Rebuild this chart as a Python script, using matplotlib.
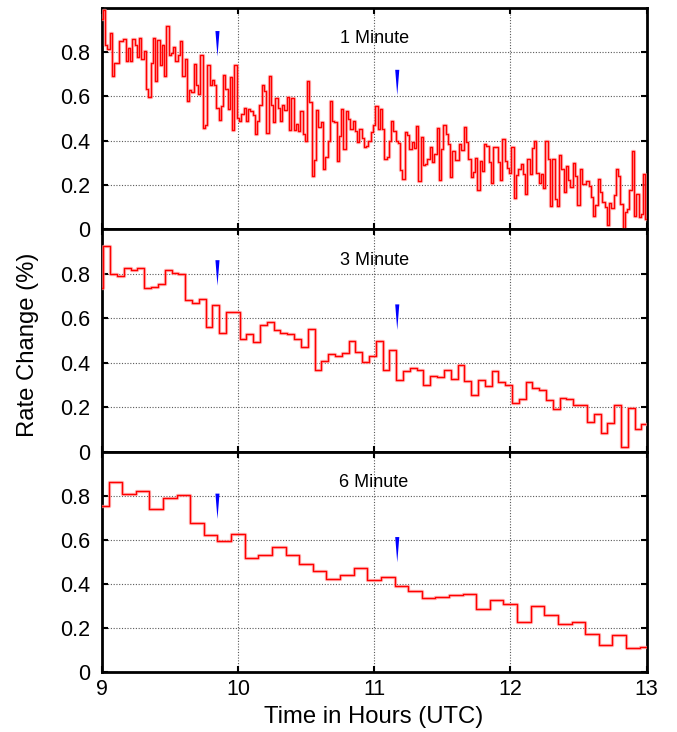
import numpy as np
import matplotlib
matplotlib.use("Agg")
import matplotlib.pyplot as plt

plt.rcParams["font.family"] = ["Liberation Sans", "DejaVu Sans"]

# ---------------------------------------------------------------------
# rate change (%) averaged over 1, 3 and 6 minute bins, 09:00 -> 13:00 UTC
rate_1min = [
    0.95, 0.99, 0.833, 0.815, 0.887, 0.69, 0.753, 0.753, 0.848, 0.848,
    0.86, 0.76, 0.818, 0.76, 0.86, 0.83, 0.776, 0.863, 0.767, 0.806,
    0.635, 0.598, 0.752, 0.863, 0.668, 0.854, 0.743, 0.83, 0.69, 0.92,
    0.788, 0.795, 0.823, 0.762, 0.788, 0.848, 0.69, 0.77, 0.58, 0.63,
    0.62, 0.747, 0.65, 0.61, 0.788, 0.457, 0.472, 0.743, 0.65, 0.672,
    0.65, 0.547, 0.495, 0.555, 0.698, 0.635, 0.544, 0.687, 0.45, 0.743,
    0.502, 0.49, 0.522, 0.547, 0.49, 0.541, 0.532, 0.517, 0.43, 0.49,
    0.56, 0.653, 0.623, 0.435, 0.692, 0.56, 0.484, 0.592, 0.547, 0.49,
    0.56, 0.537, 0.598, 0.448, 0.594, 0.448, 0.477, 0.444, 0.532, 0.432,
    0.40, 0.67, 0.574, 0.242, 0.311, 0.538, 0.46, 0.484, 0.27, 0.326,
    0.397, 0.58, 0.49, 0.484, 0.31, 0.42, 0.544, 0.364, 0.532, 0.5,
    0.454, 0.49, 0.444, 0.394, 0.454, 0.412, 0.371, 0.376, 0.4, 0.44,
    0.472, 0.556, 0.454, 0.541, 0.454, 0.319, 0.326, 0.40, 0.487, 0.442,
    0.40, 0.39, 0.266, 0.226, 0.44, 0.424, 0.364, 0.394, 0.367, 0.466,
    0.217, 0.417, 0.292, 0.296, 0.316, 0.371, 0.304, 0.341, 0.457, 0.221,
    0.361, 0.469, 0.43, 0.386, 0.236, 0.353, 0.311, 0.311, 0.386, 0.356, 0.46,
    0.394, 0.319, 0.236, 0.259, 0.322, 0.176, 0.307, 0.263, 0.386, 0.376,
    0.304, 0.211, 0.371, 0.371, 0.304, 0.221, 0.409, 0.31, 0.277, 0.256,
    0.37, 0.141, 0.244, 0.271, 0.293, 0.251, 0.158, 0.316, 0.248, 0.367,
    0.398, 0.256, 0.209, 0.248, 0.186, 0.397, 0.319, 0.104, 0.316,
    0.138, 0.104, 0.337, 0.271, 0.168, 0.286, 0.221, 0.191, 0.301, 0.241,
    0.108, 0.274, 0.203, 0.205, 0.218, 0.194, 0.146, 0.06, 0.108, 0.229,
    0.168, 0.123, 0.101, 0.018, 0.12, 0.096, 0.156, 0.271, 0.241, 0.113,
    0.0, 0.078, 0.093, 0.179, 0.352, 0.06, 0.158, 0.056, 0.068, 0.251, 0.048,
]

rate_3min = [
    0.737, 0.927, 0.80, 0.79, 0.824, 0.815, 0.824, 0.737, 0.741, 0.756,
    0.815, 0.803, 0.80, 0.681, 0.667, 0.686, 0.559, 0.658, 0.532, 0.628,
    0.63, 0.505, 0.53, 0.493, 0.568, 0.583, 0.545, 0.535, 0.529, 0.508,
    0.469, 0.551, 0.365, 0.407, 0.44, 0.432, 0.444, 0.497, 0.446, 0.402,
    0.428, 0.497, 0.369, 0.456, 0.321, 0.363, 0.375, 0.366, 0.30, 0.342,
    0.336, 0.366, 0.327, 0.39, 0.318, 0.253, 0.321, 0.294, 0.362, 0.315,
    0.30, 0.218, 0.237, 0.312, 0.288, 0.279, 0.234, 0.193, 0.241, 0.238,
    0.209, 0.209, 0.133, 0.167, 0.083, 0.127, 0.209, 0.021, 0.197, 0.102,
    0.124,
]

rate_6min = [
    0.753, 0.863, 0.806, 0.821, 0.738, 0.788, 0.803, 0.675, 0.622, 0.596,
    0.626, 0.519, 0.531, 0.565, 0.531, 0.489, 0.459, 0.423, 0.438, 0.471,
    0.415, 0.433, 0.389, 0.368, 0.334, 0.34, 0.347, 0.355, 0.287, 0.328,
    0.308, 0.228, 0.30, 0.257, 0.217, 0.225, 0.172, 0.124, 0.166, 0.107,
    0.112,
]

# bin centres (hours)
t_1min = 9.0 + np.arange(len(rate_1min)) / 60.0
t_3min = 8.9875 + np.arange(len(rate_3min)) * 0.05
t_6min = 9.0 + np.arange(len(rate_6min)) * 0.1

# blue event markers: time (h) and tip height in each panel
event_times = [9.85, 11.17]
event_tip_1min = [0.78, 0.605]
event_tip_3min = [0.746, 0.547]
event_tip_6min = [0.694, 0.497]

panel_titles = ["1 Minute", "3 Minute", "6 Minute"]
y_ticks = [0, 0.2, 0.4, 0.6, 0.8]
y_ticklabels = ["0", "0.2", "0.4", "0.6", "0.8"]
x_ticks = [9, 10, 11, 12, 13]

# ---------------------------------------------------------------------
W, H = 677, 732
fig = plt.figure(figsize=(W / 100, H / 100), dpi=100)

left_px, right_px = 101.7, 646.5
rows_px = [(7.8, 229.3), (229.3, 451.5), (451.5, 672.0)]

series = [
    (t_1min, rate_1min, event_tip_1min),
    (t_3min, rate_3min, event_tip_3min),
    (t_6min, rate_6min, event_tip_6min),
]

for i, ((top, bot), (t, r, tips)) in enumerate(zip(rows_px, series)):
    ax = fig.add_axes([left_px / W, 1 - bot / H, (right_px - left_px) / W, (bot - top) / H])

    # halo + line, to get the soft look of the original
    ax.step(t, r, where="mid", color="#ff9a9a", lw=2.4, alpha=0.7, zorder=3)
    ax.step(t, r, where="mid", color="#ff0000", lw=1.0, zorder=4)

    # event wedges
    for te, tip in zip(event_times, tips):
        L, w = 0.115, 0.015
        ax.fill([te - w, te + w, te], [tip + L, tip + L, tip],
                color="#0000ff", lw=0, zorder=5)

    ax.set_xlim(9, 13)
    ax.set_ylim(0, 1.0)
    ax.set_yticks(y_ticks)
    ax.set_yticklabels(y_ticklabels, fontsize=15.5)
    ax.set_xticks(x_ticks)
    ax.grid(True, color="0.35", linestyle=(0, (1, 1.5)), lw=0.8)
    ax.tick_params(direction="in", length=4, width=1.5, top=True, right=True)
    ax.tick_params(axis="y", pad=8)
    ax.tick_params(axis="x", pad=5)
    for s in ax.spines.values():
        s.set_linewidth(2.0)
    ax.text(0.5, 0.86, panel_titles[i], transform=ax.transAxes,
            ha="center", va="center", fontsize=13)
    if i < 2:
        ax.set_xticklabels([])
    else:
        ax.set_xticklabels([str(x) for x in x_ticks], fontsize=15.5)
        ax.set_xlabel("Time in Hours (UTC)", fontsize=17.2, labelpad=4)

fig.text(28 / W, 1 - 345 / H, "Rate Change (%)", rotation=90,
         ha="center", va="center", fontsize=17.2)

fig.savefig("out.png", dpi=100)
